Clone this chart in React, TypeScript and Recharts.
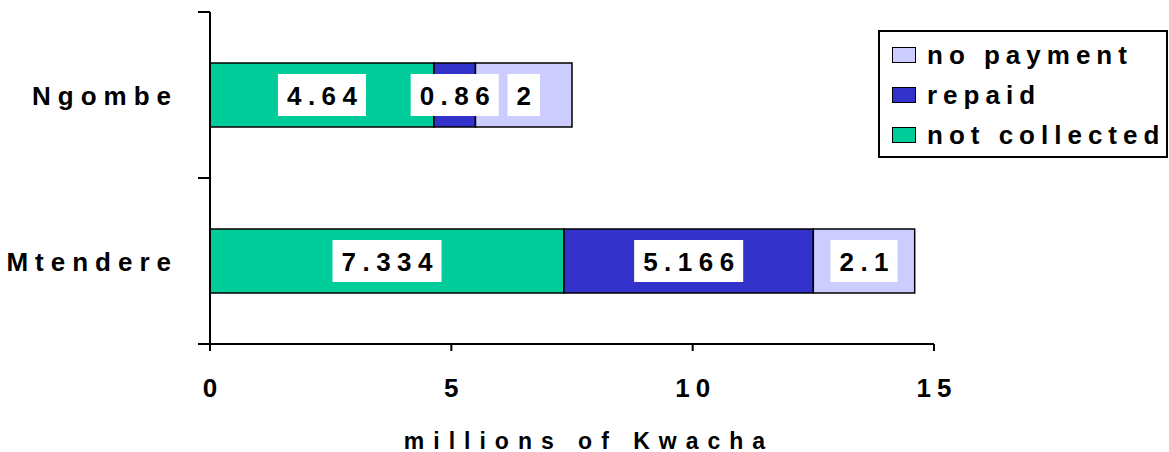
import { BarChart, Bar, XAxis, YAxis, Legend, LabelList, Label } from "recharts";

const regions = ["Ngombe", "Mtendere"];
const notCollected = [4.64, 7.334];
const repaid = [0.86, 5.166];
const noPayment = [2, 2.1];
const xTicks = [0, 5, 10, 15];

const series = [
  { key: "notCollected", name: "not collected", color: "#00CC99" },
  { key: "repaid", name: "repaid", color: "#3333CC" },
  { key: "noPayment", name: "no payment", color: "#CCCCFF" },
];

const data = regions.map((region, i) => ({
  region,
  notCollected: notCollected[i],
  repaid: repaid[i],
  noPayment: noPayment[i],
}));

const FONT = "'Liberation Sans', Arial, Helvetica, sans-serif";
const FS = 26;
const PLOT_HEIGHT = 332;
const BAND_HALF = PLOT_HEIGHT / regions.length / 2;
const Y_TICK = 12;
const Y_TICK_GAP = 20;
const BAR_SIZE = 64;

// rough advance widths for Liberation Sans Bold digits / dot
const textWidth = (s: string, ls: number) =>
  s.split("").reduce((w, c) => w + (c === "." ? 0.278 : 0.556) * FS, 0) + (s.length - 1) * ls;

function ValueLabel(props: any) {
  const { x, y, width, height, value } = props;
  const text = String(value);
  const ls = 6.5;
  const w = textWidth(text, ls);
  const cx = x + width / 2;
  const cy = y + height / 2;
  return (
    <g>
      <rect x={cx - w / 2 - 9} y={cy - 21} width={w + 18} height={42} fill="#fff" />
      <text x={cx - w / 2} y={cy} dy={9.5} fontFamily={FONT} fontWeight={700} fontSize={FS} letterSpacing={ls} fill="#000">
        {text}
      </text>
    </g>
  );
}

function RegionTick(props: any) {
  const { x, y, payload, index } = props;
  const x0 = x + Y_TICK_GAP;
  return (
    <g>
      <line x1={x0} x2={x0 + Y_TICK} y1={y - BAND_HALF} y2={y - BAND_HALF} stroke="#000" strokeWidth={2} />
      {index === regions.length - 1 && (
        <line x1={x0} x2={x0 + Y_TICK} y1={y + BAND_HALF} y2={y + BAND_HALF} stroke="#000" strokeWidth={2} />
      )}
      <text x={x} y={y} dy={9.5} textAnchor="end" fontFamily={FONT} fontWeight={700} fontSize={FS} letterSpacing={7} fill="#000">
        {payload.value}
      </text>
    </g>
  );
}

function KwachaTick(props: any) {
  const { x, y, payload } = props;
  return (
    <text x={x} y={y} dy={44} dx={3} textAnchor="middle" fontFamily={FONT} fontWeight={700} fontSize={FS} letterSpacing={6} fill="#000">
      {payload.value}
    </text>
  );
}

function AxisTitle(props: any) {
  const { viewBox } = props;
  return (
    <text
      x={viewBox.x + viewBox.width / 2 + 17}
      y={viewBox.y + 105}
      textAnchor="middle"
      fontFamily={FONT}
      fontWeight={700}
      fontSize={23}
      letterSpacing={9}
      fill="#000"
    >
      millions of Kwacha
    </text>
  );
}

function LegendBox() {
  const items = [...series].reverse();
  return (
    <div
      style={{
        boxSizing: "border-box",
        width: 290,
        height: 128,
        border: "2px solid #000",
        background: "#fff",
        padding: "3px 0 0 12px",
        fontFamily: FONT,
        fontWeight: 700,
        fontSize: FS,
        letterSpacing: 6,
        color: "#000",
        whiteSpace: "nowrap",
        textAlign: "left",
      }}
    >
      {items.map((s) => (
        <div key={s.key} style={{ display: "flex", alignItems: "center", height: 40, lineHeight: "40px" }}>
          <span
            style={{
              display: "inline-block",
              flex: "none",
              boxSizing: "border-box",
              width: 24,
              height: 16,
              background: s.color,
              border: "1.5px solid #000",
              marginRight: 11,
            }}
          />
          <span>{s.name}</span>
        </div>
      ))}
    </div>
  );
}

export default function App() {
  return (
    <div style={{ position: "absolute", left: 0, top: 0 }}>
      <BarChart
        width={1169}
        height={452}
        data={data}
        layout="vertical"
        margin={{ top: 12, right: 235, bottom: 0, left: 0 }}
        style={{ background: "#fff" }}
      >
        <XAxis
          type="number"
          domain={[0, 15]}
          ticks={xTicks}
          height={108}
          tickSize={7}
          tickMargin={2}
          axisLine={{ stroke: "#000", strokeWidth: 2 }}
          tickLine={{ stroke: "#000", strokeWidth: 2 }}
          tick={<KwachaTick />}
        >
          <Label content={<AxisTitle />} />
        </XAxis>
        <YAxis
          type="category"
          dataKey="region"
          width={210}
          tickSize={Y_TICK}
          tickMargin={Y_TICK_GAP}
          tickLine={false}
          axisLine={{ stroke: "#000", strokeWidth: 2 }}
          tick={<RegionTick />}
        />
        {/* hidden twin axis so the value labels can sit above every bar segment */}
        <YAxis yAxisId="labels" type="category" dataKey="region" hide />
        <Legend
          layout="horizontal"
          verticalAlign="middle"
          align="center"
          content={<LegendBox />}
          wrapperStyle={{ left: 878, top: 30, right: "auto", bottom: "auto", width: 290, height: 128 }}
        />
        {series.map((s) => (
          <Bar
            key={s.key}
            dataKey={s.key}
            name={s.name}
            stackId="a"
            fill={s.color}
            stroke="#000"
            strokeWidth={1.5}
            barSize={BAR_SIZE}
            isAnimationActive={false}
          />
        ))}
        {series.map((s) => (
          <Bar
            key={`${s.key}-labels`}
            yAxisId="labels"
            dataKey={s.key}
            stackId="labels"
            fill="none"
            stroke="none"
            barSize={BAR_SIZE}
            legendType="none"
            isAnimationActive={false}
          >
            <LabelList dataKey={s.key} content={<ValueLabel />} />
          </Bar>
        ))}
      </BarChart>
    </div>
  );
}
